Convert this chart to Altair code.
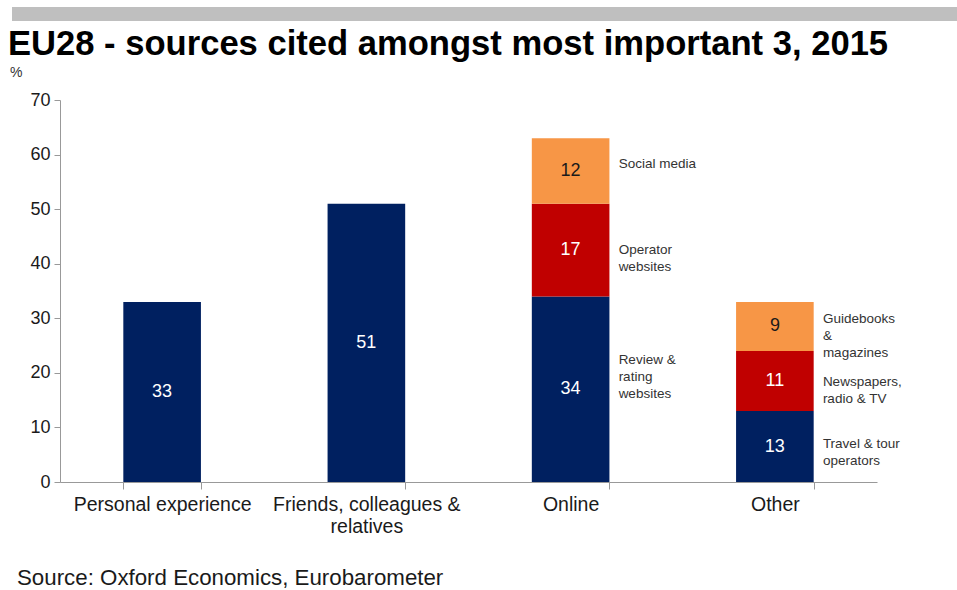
import altair as alt
import pandas as pd

# ---- data ----
categories = ["Personal experience", "Friends, colleagues & relatives", "Online", "Other"]
seg_category = ["Personal experience", "Friends, colleagues & relatives",
                "Online", "Online", "Online", "Other", "Other", "Other"]
seg_level = [0, 0, 0, 1, 2, 0, 1, 2]
seg_value = [33, 51, 34, 17, 12, 13, 11, 9]
seg_note = ["", "",
            "Review &\nrating\nwebsites", "Operator\nwebsites", "Social media",
            "Travel & tour\noperators", "Newspapers,\nradio & TV", "Guidebooks\n&\nmagazines"]
y_ticks = [0, 10, 20, 30, 40, 50, 60, 70]
title_text = "EU28 - sources cited amongst most important 3, 2015"
source_text = "Source: Oxford Economics, Eurobarometer"

# ---- style / layout ----
colors = ["#002060", "#C00000", "#F79646"]
note_nudge_px = [0, 0, -29, 0, -7, -3, 1, -7]   # hand placement of side labels

df = pd.DataFrame({"category": seg_category, "level": seg_level,
                   "value": seg_value, "note": seg_note})
df["end"] = df.groupby("category")["value"].cumsum()
df["start"] = df["end"] - df["value"]
df["mid"] = (df["start"] + df["end"]) / 2
df["nudge"] = note_nudge_px

FONT = "Liberation Sans"
W, H = 817, 382

x_enc = alt.X("category:N", sort=categories, title=None,
              scale=alt.Scale(paddingInner=0.62, paddingOuter=0.31),
              axis=alt.Axis(tickBand="extent", labelAngle=0, labelFontSize=19.5,
                            labelFont=FONT, labelColor="#1a1a1a", labelPadding=6,
                            labelLimit=400,
                            tickSize=7, tickColor="#999999", domainColor="#999999",
                            labelLineHeight=22,
                            labelExpr="datum.value == 'Friends, colleagues & relatives' ? ['Friends, colleagues &', 'relatives'] : datum.value"))
y_scale = alt.Scale(domain=[0, 70], nice=False)

base = alt.Chart(df)

bars = base.mark_bar().encode(
    x=x_enc,
    y=alt.Y("start:Q", scale=y_scale, title=None,
            axis=alt.Axis(values=y_ticks, grid=False, labelFontSize=18, labelFont=FONT,
                          labelColor="#1a1a1a", tickSize=6, tickColor="#999999",
                          domainColor="#999999", labelPadding=4)),
    y2="end:Q",
    color=alt.Color("level:N", scale=alt.Scale(domain=[0, 1, 2], range=colors), legend=None),
)

vals = base.mark_text(fontSize=18, font=FONT, baseline="middle").encode(
    x=alt.X("category:N", sort=categories),
    y=alt.Y("mid:Q", scale=y_scale),
    text="value:Q",
    color=alt.condition("datum.level == 2", alt.value("#1a1a1a"), alt.value("white")),
)

note_layers = []
for nd in sorted(set(note_nudge_px)):
    note_layers.append(
        base.transform_filter(f"datum.note != '' && datum.nudge == {nd}").mark_text(
            fontSize=13.5, font=FONT, align="left", baseline="middle", dx=48, dy=nd,
            lineBreak="\n", lineHeight=17, color="#333333"
        ).encode(
            x=alt.X("category:N", sort=categories),
            y=alt.Y("mid:Q", scale=y_scale),
            text="note:N",
        )
    )

one = pd.DataFrame({"a": [0]})
band = alt.Chart(one).mark_rect(color="#BFBFBF").encode(
    x=alt.value(-48), x2=alt.value(897), y=alt.value(-93), y2=alt.value(-79))
title = alt.Chart(one).mark_text(fontSize=34.6, fontWeight="bold", font=FONT, align="left",
                                 baseline="middle", color="#000000").encode(
    x=alt.value(-52), y=alt.value(-55), text=alt.value(title_text))
pct = alt.Chart(one).mark_text(fontSize=14, font=FONT, align="left", baseline="middle",
                               color="#333333").encode(
    x=alt.value(-50), y=alt.value(-27), text=alt.value("%"))
source = alt.Chart(one).mark_text(fontSize=22.3, font=FONT, align="left", baseline="middle",
                                  color="#1a1a1a").encode(
    x=alt.value(-43), y=alt.value(H + 96), text=alt.value(source_text))

chart = alt.layer(bars, vals, *note_layers, band, title, pct, source).properties(
    width=W, height=H,
    autosize=alt.AutoSizeParams(type="none"),
    padding={"left": 60, "top": 100, "right": 80, "bottom": 108},
    background="white",
).configure_view(stroke=None)

chart.save("out.html", embed_options={"renderer": "svg", "actions": False})
